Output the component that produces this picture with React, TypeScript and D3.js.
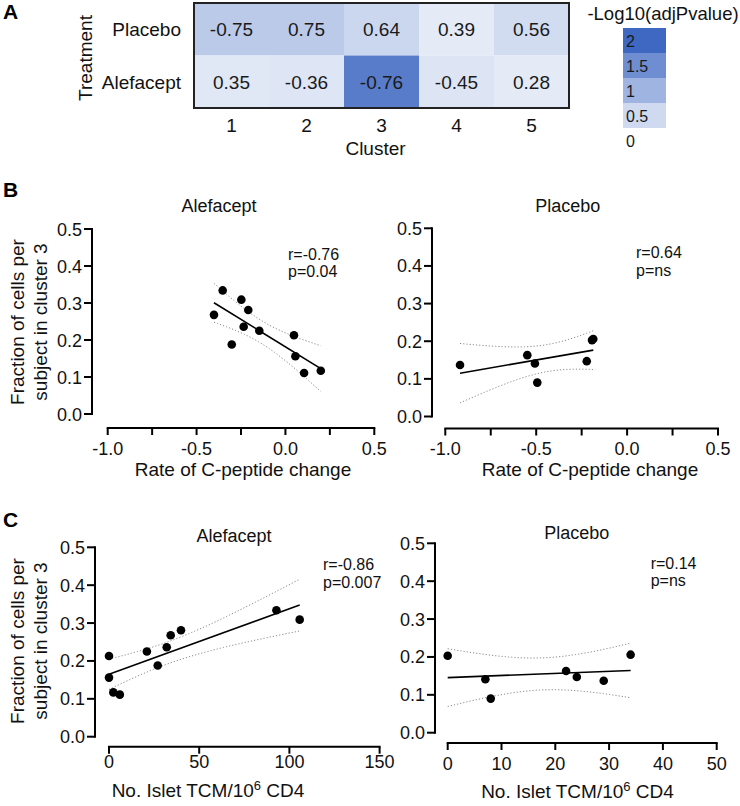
import React from "react";
import * as d3 from "d3";

// ---------- Panel A data ----------
const clusters = ["1", "2", "3", "4", "5"];
const treatments = ["Placebo", "Alefacept"];
const rPlacebo = [-0.75, 0.75, 0.64, 0.39, 0.56];
const rAlefacept = [0.35, -0.36, -0.76, -0.45, 0.28];
const logpPlacebo = [0.7, 0.7, 0.54, 0.28, 0.47];
const logpAlefacept = [0.32, 0.34, 1.74, 0.35, 0.28];
const legendLevels = [2, 1.5, 1, 0.5, 0];

// ---------- Panels B / C data ----------
const alefCluster3 = [0.268, 0.334, 0.188, 0.309, 0.236, 0.281, 0.225, 0.213, 0.156, 0.111, 0.117];
const alefCpeptide = [-0.402, -0.353, -0.302, -0.248, -0.235, -0.209, -0.147, 0.048, 0.056, 0.105, 0.199];
const alefTCM = [34.2, 92.8, 27, 105.7, 32, 39.9, 21, 0, 0, 6, 2.4];

const placCluster3 = [0.137, 0.163, 0.141, 0.09, 0.147, 0.203, 0.206];
const placCpeptide = [-0.919, -0.549, -0.507, -0.494, -0.222, -0.193, -0.186];
const placTCM = [29, 22, 7, 8, 24, 0, 34];

const yTicks = [0, 0.1, 0.2, 0.3, 0.4, 0.5];
const cpepTicks = [-1, -0.75, -0.5, -0.25, 0, 0.25, 0.5];
const cpepLabels = [-1, -0.5, 0, 0.5];
const tcmAlefTicks = [0, 50, 100, 150];
const tcmPlacTicks = [0, 10, 20, 30, 40, 50];

const FONT = "Arial, 'Liberation Sans', Helvetica, sans-serif";
const tCrit: Record<number, number> = { 5: 2.571, 9: 2.262 };

const color = d3.scaleLinear<string>().domain([0, 2]).range(["#ffffff", "#3f68c2"]);

function regress(xs: number[], ys: number[]) {
  const n = xs.length;
  const mx = d3.mean(xs)!;
  const my = d3.mean(ys)!;
  let sxx = 0, sxy = 0;
  xs.forEach((x, i) => {
    sxx += (x - mx) ** 2;
    sxy += (x - mx) * (ys[i] - my);
  });
  const slope = sxy / sxx;
  const icpt = my - slope * mx;
  let sse = 0;
  xs.forEach((x, i) => (sse += (ys[i] - (icpt + slope * x)) ** 2));
  const s = Math.sqrt(sse / (n - 2));
  const t = tCrit[n - 2] ?? 2.3;
  return {
    f: (x: number) => icpt + slope * x,
    ci: (x: number) => t * s * Math.sqrt(1 / n + (x - mx) ** 2 / sxx),
  };
}

type ScatterProps = {
  xs: number[];
  ys: number[];
  xDomain: [number, number];
  xRange: [number, number];
  yRange: [number, number];
  yAxisX: number;
  xAxisY: number;
  xTicks: number[];
  xLabels: number[];
  fmtX: (v: number) => string;
  tickBaseline: number;
  title: string;
  titlePos: [number, number];
  stats: string[];
  statsPos: [number, number, number];
  xLabel: React.ReactNode;
  xLabelPos: [number, number];
};

function Scatter(p: ScatterProps) {
  const x = d3.scaleLinear().domain(p.xDomain).range(p.xRange);
  const y = d3.scaleLinear().domain([0, 0.5]).range(p.yRange);
  const reg = regress(p.xs, p.ys);
  const [x0, x1] = d3.extent(p.xs) as [number, number];
  const samples = d3.range(0, 61).map((i) => x0 + ((x1 - x0) * i) / 60);
  const line = d3
    .line<number>()
    .x((d) => x(d))
    .y((d) => y(reg.f(d)));
  const upper = d3
    .line<number>()
    .x((d) => x(d))
    .y((d) => y(reg.f(d) + reg.ci(d)));
  const lower = d3
    .line<number>()
    .x((d) => x(d))
    .y((d) => y(reg.f(d) - reg.ci(d)));
  return (
    <g>
      {/* y axis */}
      <line x1={p.yAxisX} x2={p.yAxisX} y1={y(0) + 1} y2={y(0.5) - 1} stroke="#000" strokeWidth={2} />
      {yTicks.map((t) => (
        <g key={t}>
          <line x1={p.yAxisX - 8} x2={p.yAxisX} y1={y(t)} y2={y(t)} stroke="#000" strokeWidth={2} />
          <text x={p.yAxisX - 10} y={y(t) + 6.5} textAnchor="end" fontSize={18} fill="#111">
            {t.toFixed(1)}
          </text>
        </g>
      ))}
      {/* x axis */}
      <line x1={p.xRange[0] - 1} x2={p.xRange[1] + 1} y1={p.xAxisY} y2={p.xAxisY} stroke="#000" strokeWidth={2} />
      {p.xTicks.map((t) => (
        <line key={t} x1={x(t)} x2={x(t)} y1={p.xAxisY} y2={p.xAxisY + 7} stroke="#000" strokeWidth={2} />
      ))}
      {p.xLabels.map((t) => (
        <text key={t} x={x(t)} y={p.tickBaseline} textAnchor="middle" fontSize={18} fill="#111">
          {p.fmtX(t)}
        </text>
      ))}
      {/* CI & regression */}
      <path d={upper(samples)!} fill="none" stroke="#8a8a8a" strokeWidth={1} strokeDasharray="1.2,2" />
      <path d={lower(samples)!} fill="none" stroke="#8a8a8a" strokeWidth={1} strokeDasharray="1.2,2" />
      <path d={line([x0, x1])!} fill="none" stroke="#000" strokeWidth={1.6} />
      {p.xs.map((v, i) => (
        <circle key={i} cx={x(v)} cy={y(p.ys[i])} r={4.3} fill="#000" />
      ))}
      <text x={p.titlePos[0]} y={p.titlePos[1]} textAnchor="middle" fontSize={18} fill="#111">
        {p.title}
      </text>
      {p.stats.map((s, i) => (
        <text key={i} x={p.statsPos[0]} y={i === 0 ? p.statsPos[1] : p.statsPos[2]} fontSize={16} fill="#111">
          {s}
        </text>
      ))}
      <text x={p.xLabelPos[0]} y={p.xLabelPos[1]} textAnchor="middle" fontSize={19} fill="#111">
        {p.xLabel}
      </text>
    </g>
  );
}

function YLabel({ cy }: { cy: number }) {
  return (
    <g fontSize={19} fill="#111">
      <text transform={`translate(24,${cy}) rotate(-90)`} textAnchor="middle">
        Fraction of cells per
      </text>
      <text transform={`translate(47,${cy}) rotate(-90)`} textAnchor="middle">
        subject in cluster 3
      </text>
    </g>
  );
}

const tcmLabel = (
  <>
    No. Islet TCM/10
    <tspan dy={-7} fontSize={13}>
      6
    </tspan>
    <tspan dy={7}> CD4</tspan>
  </>
);

export default function App() {
  const hx = d3.scaleBand<string>().domain(clusters).range([194, 569]);
  const hy = d3.scaleBand<string>().domain(treatments).range([3, 108]);
  const rows = [
    { t: "Placebo", r: rPlacebo, p: logpPlacebo },
    { t: "Alefacept", r: rAlefacept, p: logpAlefacept },
  ];
  const ly = d3.scaleBand<number>().domain(legendLevels).range([28, 153]);

  return (
    <svg
      width={740}
      height={806}
      style={{ position: "absolute", left: 0, top: 0, background: "#fff" }}
      fontFamily={FONT}
    >
      <rect width={740} height={806} fill="#fff" />
      {/* Panel letters */}
      <text x={3} y={19} fontSize={21} fontWeight="bold">A</text>
      <text x={3} y={197} fontSize={21} fontWeight="bold">B</text>
      <text x={3} y={527} fontSize={21} fontWeight="bold">C</text>

      {/* Heatmap */}
      {rows.map((row) =>
        clusters.map((c, j) => (
          <g key={row.t + c}>
            <rect x={hx(c)} y={hy(row.t)} width={hx.bandwidth()} height={hy.bandwidth()} fill={color(row.p[j])} />
            <text
              x={hx(c)! + hx.bandwidth() / 2}
              y={hy(row.t)! + hy.bandwidth() / 2 + 7}
              textAnchor="middle"
              fontSize={19}
              fill="#1a1a1a"
            >
              {row.r[j].toFixed(2)}
            </text>
          </g>
        ))
      )}
      <rect x={194} y={3} width={375} height={105} fill="none" stroke="#222" strokeWidth={2} />
      {treatments.map((t) => (
        <text key={t} x={181} y={hy(t)! + hy.bandwidth() / 2 + 7} textAnchor="end" fontSize={19} fill="#111">
          {t}
        </text>
      ))}
      <text transform="translate(92,58) rotate(-90)" textAnchor="middle" fontSize={19} fill="#111">
        Treatment
      </text>
      {clusters.map((c) => (
        <text key={c} x={hx(c)! + hx.bandwidth() / 2} y={132} textAnchor="middle" fontSize={19} fill="#111">
          {c}
        </text>
      ))}
      <text x={hx("3")! + hx.bandwidth() / 2 - 6} y={155} textAnchor="middle" fontSize={19} fill="#111">
        Cluster
      </text>

      {/* Legend */}
      <text x={663} y={20} textAnchor="middle" fontSize={18.5} fill="#111">
        -Log10(adjPvalue)
      </text>
      {legendLevels.map((l) => (
        <g key={l}>
          <rect x={623} y={ly(l)} width={43} height={ly.bandwidth()} fill={color(l)} />
          <text x={626} y={ly(l)! + 18.5} fontSize={16} fill="#1a1a1a">
            {String(l)}
          </text>
        </g>
      ))}

      {/* Panel B */}
      <YLabel cy={322} />
      <Scatter
        xs={alefCpeptide}
        ys={alefCluster3}
        xDomain={[-1, 0.5]}
        xRange={[107.7, 374.3]}
        yRange={[414, 229]}
        yAxisX={92}
        xAxisY={428}
        xTicks={cpepTicks}
        xLabels={cpepLabels}
        fmtX={(v) => v.toFixed(1)}
        tickBaseline={455}
        title="Alefacept"
        titlePos={[219, 212]}
        stats={["r=-0.76", "p=0.04"]}
        statsPos={[288, 260, 277]}
        xLabel="Rate of C-peptide change"
        xLabelPos={[243, 476]}
      />
      <Scatter
        xs={placCpeptide}
        ys={placCluster3}
        xDomain={[-1, 0.5]}
        xRange={[445.3, 718]}
        yRange={[416.5, 228.3]}
        yAxisX={432}
        xAxisY={428.5}
        xTicks={cpepTicks}
        xLabels={cpepLabels}
        fmtX={(v) => v.toFixed(1)}
        tickBaseline={455}
        title="Placebo"
        titlePos={[567.7, 212]}
        stats={["r=0.64", "p=ns"]}
        statsPos={[636, 258, 276]}
        xLabel="Rate of C-peptide change"
        xLabelPos={[590, 476]}
      />

      {/* Panel C */}
      <YLabel cy={641} />
      <Scatter
        xs={alefTCM}
        ys={alefCluster3}
        xDomain={[0, 150]}
        xRange={[109, 379.6]}
        yRange={[736.7, 547.3]}
        yAxisX={95}
        xAxisY={746.7}
        xTicks={tcmAlefTicks}
        xLabels={tcmAlefTicks}
        fmtX={(v) => String(v)}
        tickBaseline={768}
        title="Alefacept"
        titlePos={[234, 542]}
        stats={["r=-0.86", "p=0.007"]}
        statsPos={[323, 570, 588]}
        xLabel={tcmLabel}
        xLabelPos={[208, 797]}
      />
      <Scatter
        xs={placTCM}
        ys={placCluster3}
        xDomain={[0, 50]}
        xRange={[447.7, 716.7]}
        yRange={[732.7, 543.3]}
        yAxisX={435}
        xAxisY={743}
        xTicks={tcmPlacTicks}
        xLabels={tcmPlacTicks}
        fmtX={(v) => String(v)}
        tickBaseline={770}
        title="Placebo"
        titlePos={[576.7, 539]}
        stats={["r=0.14", "p=ns"]}
        statsPos={[650.7, 568.5, 586]}
        xLabel={tcmLabel}
        xLabelPos={[577.5, 798]}
      />
    </svg>
  );
}
